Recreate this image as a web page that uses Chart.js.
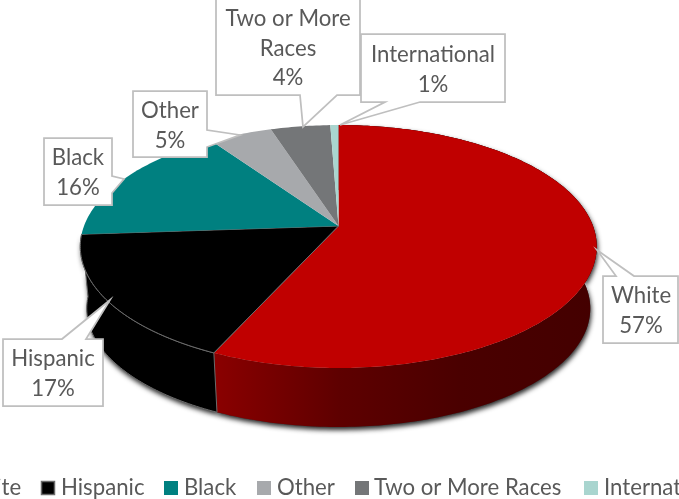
<!DOCTYPE html>
<html>
<head>
<meta charset="utf-8">
<style>
  html, body { margin: 0; padding: 0; background: #fff; overflow: hidden; }
  canvas { display: block; }
</style>
<script src="https://cdn.jsdelivr.net/npm/chart.js@4"></script>
</head>
<body>
<canvas id="pie" width="679" height="499"></canvas>
<script>
var categories = ["White", "Hispanic", "Black", "Other", "Two or More Races", "International"];
var shares = [56.8, 17.1, 16.45, 4.65, 4.4, 0.6];
var sliceColors = ["#C00000", "#000000", "#008080", "#A7A9AC", "#747678", "#A9D5CF"];

var FONT = '22.2px Lato, Carlito, sans-serif';
var TEXT_COLOR = "#595959";
var BOX_COLOR = "#BFBFBF";

// tilted disc: apex on screen, radius, perspective strength
var CX = 338.5, CY = 226, RX = 254.5, RY = 118, K = 0.169;
// lower rim of the disc is a bit narrower and pushed down
var RIM_SCALE = 0.975, RIM_DROP = 62.5;

// callouts, same order as categories. outline is box plus leader wedge
var callouts = [
  { lines: ["White"], cx: 641, base: 303,
    outline: [[603, 276], [616, 276], [597, 250], [634, 276], [678, 276], [678, 343], [603, 343]] },
  { lines: ["Hispanic"], cx: 53, base: 366,
    outline: [[3, 339], [62, 339], [110, 300], [86, 339], [103, 339], [103, 406], [3, 406]] },
  { lines: ["Black"], cx: 78, base: 165,
    outline: [[44, 138], [112, 138], [112, 176], [124, 179], [112, 193], [112, 205], [44, 205]] },
  { lines: ["Other"], cx: 170, base: 118,
    outline: [[133, 91], [207, 91], [207, 130], [240, 135], [207, 147], [207, 157], [133, 157]] },
  { lines: ["Two or More", "Races"], cx: 288, base: 26,
    outline: [[216, -5], [360, -5], [360, 95], [337, 95], [303, 127], [300, 95], [216, 95]] },
  { lines: ["International"], cx: 433, base: 62,
    outline: [[361, 34], [505, 34], [505, 102], [420, 102], [340, 125], [385, 102], [361, 102]] }
];

// legend runs off both sides of the picture, as in the original
var legendMarkX = [-62, 41, 164, 257, 355, 584];
var legendTextX = [-39, 61, 184, 277, 374, 604];

function project(theta) {
  var u = Math.cos(theta), v = -Math.sin(theta);
  var w = 1 + K * v;
  return [CX + RX * u / w, CY - RY * v / w];
}

function rimPoint(p) {
  return [CX + (p[0] - CX) * RIM_SCALE, CY + RIM_DROP + (p[1] - CY) * RIM_SCALE];
}

function arcPoints(start, end) {
  var n = Math.max(2, Math.ceil((end - start) * 60));
  var pts = [];
  for (var i = 0; i <= n; i++) {
    pts.push(project(start + (end - start) * i / n));
  }
  return pts;
}

function tracePoly(ctx, pts) {
  ctx.beginPath();
  pts.forEach(function (p, i) {
    if (i === 0) ctx.moveTo(p[0], p[1]);
    else ctx.lineTo(p[0], p[1]);
  });
  ctx.closePath();
}

function wallPoints(arc) {
  var top = arcPoints(arc.startAngle, arc.endAngle);
  return top.concat(top.map(rimPoint).reverse());
}

// only slices facing the viewer show a side wall
function facesFront(arc) {
  return Math.sin((arc.startAngle + arc.endAngle) / 2) > 0;
}

function wallFill(ctx, index) {
  if (index !== 0) return sliceColors[index];
  var g = ctx.createLinearGradient(215, 0, 592, 0);
  g.addColorStop(0, "#8A0000");
  g.addColorStop(0.33, "#5E0000");
  g.addColorStop(0.65, "#4A0000");
  g.addColorStop(1, "#440000");
  return g;
}

var tiltedPie = {
  id: "tiltedPie",
  beforeDatasetsDraw: function (chart) {
    var ctx = chart.ctx;
    var arcs = chart.getDatasetMeta(0).data;

    // soft shadow under the walls
    ctx.save();
    ctx.shadowColor = "rgba(0,0,0,0.85)";
    ctx.shadowBlur = 5;
    ctx.shadowOffsetX = 1;
    ctx.shadowOffsetY = 3;
    ctx.fillStyle = "#333";
    arcs.forEach(function (arc) {
      if (!facesFront(arc)) return;
      tracePoly(ctx, wallPoints(arc));
      ctx.fill();
    });
    ctx.restore();

    arcs.forEach(function (arc, i) {
      if (!facesFront(arc)) return;
      tracePoly(ctx, wallPoints(arc));
      ctx.fillStyle = wallFill(ctx, i);
      ctx.fill();
      if (i === 1) {
        ctx.strokeStyle = "#6b6b6b";
        ctx.lineWidth = 1;
        ctx.stroke();
      }
    });

    arcs.forEach(function (arc, i) {
      tracePoly(ctx, [[CX, CY]].concat(arcPoints(arc.startAngle, arc.endAngle)));
      ctx.fillStyle = sliceColors[i];
      ctx.fill();
      if (i === 1) {
        ctx.strokeStyle = "#6b6b6b";
        ctx.lineWidth = 1;
        ctx.stroke();
      }
    });

    drawCallouts(ctx);
    drawLegend(ctx);
    return false;
  }
};

function drawCallouts(ctx) {
  var total = shares.reduce(function (a, b) { return a + b; }, 0);
  ctx.font = FONT;
  ctx.textAlign = "center";
  ctx.textBaseline = "alphabetic";
  callouts.forEach(function (c, i) {
    tracePoly(ctx, c.outline);
    ctx.fillStyle = "#fff";
    ctx.fill();
    ctx.strokeStyle = BOX_COLOR;
    ctx.lineWidth = 1.75;
    ctx.stroke();
    ctx.fillStyle = TEXT_COLOR;
    var lines = c.lines.concat([Math.round(shares[i] / total * 100) + "%"]);
    lines.forEach(function (line, j) {
      ctx.fillText(line, c.cx, c.base + j * 29.5);
    });
  });
}

function drawLegend(ctx) {
  ctx.font = FONT;
  ctx.textAlign = "left";
  ctx.textBaseline = "alphabetic";
  categories.forEach(function (name, i) {
    ctx.fillStyle = sliceColors[i];
    ctx.fillRect(legendMarkX[i], 481, 14, 14);
    if (i === 1) {
      ctx.strokeStyle = "#6b6b6b";
      ctx.lineWidth = 1.5;
      ctx.strokeRect(legendMarkX[i] + 0.5, 481.5, 13, 13);
    }
    ctx.fillStyle = TEXT_COLOR;
    ctx.fillText(name, legendTextX[i], 495);
  });
}

new Chart(document.getElementById("pie"), {
  type: "pie",
  data: {
    labels: categories,
    datasets: [{ data: shares, backgroundColor: sliceColors, borderWidth: 0 }]
  },
  options: {
    responsive: false,
    animation: false,
    plugins: {
      legend: { display: false },
      tooltip: { enabled: false }
    }
  },
  plugins: [tiltedPie]
});
</script>
</body>
</html>
